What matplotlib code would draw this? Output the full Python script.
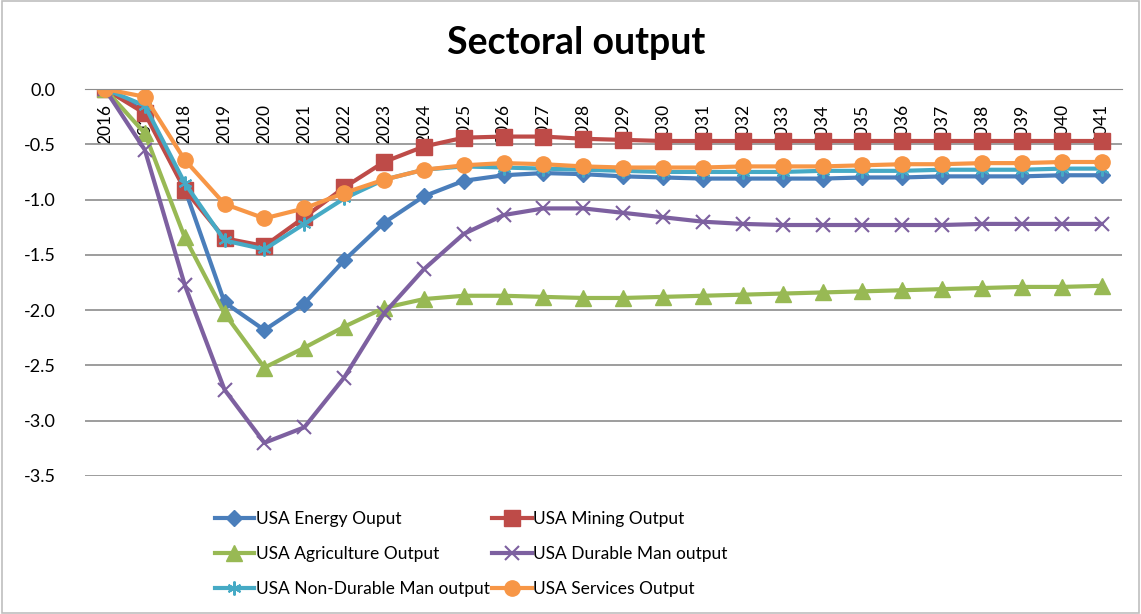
import numpy as np
import matplotlib
matplotlib.use("Agg")
import matplotlib.pyplot as plt
from matplotlib.patches import Rectangle

plt.rcParams['font.family'] = ['Lato', 'DejaVu Sans']

years = [str(y) for y in range(2016, 2042)]

energy = [0.0, -0.2, -0.9, -1.93, -2.18, -1.94, -1.55, -1.21, -0.97, -0.83, -0.78,
          -0.76, -0.77, -0.79, -0.8, -0.81, -0.81, -0.81, -0.81, -0.8, -0.8,
          -0.79, -0.79, -0.79, -0.78, -0.78]
mining = [0.0, -0.22, -0.91, -1.35, -1.42, -1.16, -0.89, -0.66, -0.52, -0.44, -0.43,
          -0.43, -0.45, -0.46, -0.47, -0.47, -0.47, -0.47, -0.47, -0.47, -0.47,
          -0.47, -0.47, -0.47, -0.47, -0.47]
agriculture = [0.0, -0.4, -1.34, -2.03, -2.52, -2.34, -2.15, -1.98, -1.9, -1.87, -1.87,
               -1.88, -1.89, -1.89, -1.88, -1.87, -1.86, -1.85, -1.84, -1.83, -1.82,
               -1.81, -1.8, -1.79, -1.79, -1.78]
durable = [0.0, -0.55, -1.77, -2.72, -3.2, -3.06, -2.61, -2.03, -1.63, -1.31, -1.14,
           -1.08, -1.08, -1.12, -1.16, -1.2, -1.22, -1.23, -1.23, -1.23, -1.23,
           -1.23, -1.22, -1.22, -1.22, -1.22]
nondurable = [0.0, -0.15, -0.85, -1.37, -1.45, -1.22, -0.99, -0.82, -0.73, -0.7, -0.71,
              -0.72, -0.73, -0.74, -0.75, -0.75, -0.75, -0.75, -0.74, -0.74, -0.74,
              -0.73, -0.73, -0.73, -0.72, -0.72]
services = [0.0, -0.07, -0.64, -1.04, -1.17, -1.08, -0.94, -0.82, -0.73, -0.69, -0.67,
            -0.68, -0.7, -0.71, -0.71, -0.71, -0.7, -0.7, -0.7, -0.69, -0.68,
            -0.68, -0.67, -0.67, -0.66, -0.66]

fig = plt.figure(figsize=(11.41, 6.14), dpi=100)
ax = fig.add_axes([0.0745, 0.2248, 0.9085, 0.6302])

x = np.arange(len(years))
lw = 3.0
h_energy, = ax.plot(x, energy, color='#4A7EBB', lw=lw, marker='D', ms=8, label='USA Energy Ouput')
h_mining, = ax.plot(x, mining, color='#BE4B48', lw=lw, marker='s', ms=11, label='USA Mining Output')
h_agri, = ax.plot(x, agriculture, color='#98B954', lw=lw, marker='^', ms=11, label='USA Agriculture Output')
h_dur, = ax.plot(x, durable, color='#7D60A0', lw=lw, marker='x', ms=10, mew=1.5, label='USA Durable Man output')
h_nd, = ax.plot(x, nondurable, color='#46AAC5', lw=lw, marker=(6, 2, 0), ms=10, mew=1.5, label='USA Non-Durable Man output')
h_srv, = ax.plot(x, services, color='#F79646', lw=lw, marker='o', ms=11, label='USA Services Output')

ax.set_xlim(-0.5, len(years) - 0.5)
ax.set_ylim(-3.5, 0.0)
ax.spines['bottom'].set_position(('data', 0))
for s in ['top', 'right', 'left']:
    ax.spines[s].set_visible(False)
ax.spines['bottom'].set_color('#8c8c8c')

yt = np.arange(-3.5, 0.01, 0.5)
ax.set_yticks(yt)
ax.set_yticklabels(['%.1f' % v for v in yt], fontsize=13)
ax.yaxis.grid(True, color='#8c8c8c', lw=1.2)
ax.set_axisbelow(True)
ax.set_xticks(x)
ax.set_xticklabels(years, fontsize=12.5)
ax.tick_params(axis='both', length=0)
ax.tick_params(axis='x', pad=11, labelrotation=90)
ax.tick_params(axis='y', pad=21)

fig.text(0.505, 0.93, 'Sectoral output', ha='center', va='center', fontsize=27, fontweight='bold')

handles = [h_energy, h_agri, h_nd, h_mining, h_dur, h_srv]
fig.legend(handles=handles, labels=[h.get_label() for h in handles], ncol=2,
           loc='upper left', bbox_to_anchor=(0.188, 0.168), frameon=False,
           fontsize=12.5, handlelength=2.3, handletextpad=0.1, columnspacing=0.1,
           labelspacing=1.1, borderaxespad=0, borderpad=0)

fig.patches.append(Rectangle((0.002, 0.002), 0.996, 0.996, transform=fig.transFigure,
                             fill=False, edgecolor='#bfbfbf', lw=1.2))

fig.savefig('out.png', dpi=100)
